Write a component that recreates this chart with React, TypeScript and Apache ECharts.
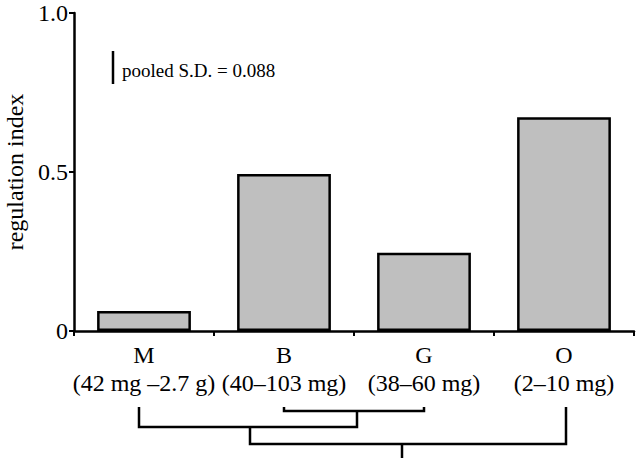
import React, { useEffect, useRef } from "react";
import * as echarts from "echarts";

const categories = ["M", "B", "G", "O"];
const massRanges = ["(42 mg –2.7 g)", "(40–103 mg)", "(38–60 mg)", "(2–10 mg)"];
const regulationIndex = [0.063, 0.494, 0.246, 0.672];
const yTicks = [0, 0.5, 1.0];
const pooledSD = 0.088;

const FONT = "Liberation Serif, Times New Roman, serif";

export default function App() {
  const ref = useRef<HTMLDivElement>(null);
  useEffect(() => {
    if (!ref.current) return;
    const chart = echarts.init(ref.current, undefined, { renderer: "svg" });
    const option: any = {
      animation: false,
      grid: { left: 74, right: 2, top: 13, bottom: 127, containLabel: false, outerBoundsMode: "none" },
      xAxis: {
        type: "category",
        data: categories,
        axisLine: { lineStyle: { color: "#000", width: 2.5 } },
        axisTick: { show: true, length: 5, lineStyle: { color: "#000", width: 2 } },
        axisLabel: {
          interval: 0,
          margin: 10,
          color: "#000",
          fontFamily: FONT,
          fontSize: 24,
          lineHeight: 28,
          formatter: (v: string) => {
            const i = categories.indexOf(v);
            return v + "\n" + massRanges[i];
          },
        },
      },
      yAxis: {
        type: "value",
        min: 0,
        max: 1,
        interval: 0.5,
        name: "regulation index",
        nameLocation: "middle",
        nameGap: 46,
        nameTextStyle: { color: "#000", fontFamily: FONT, fontSize: 24 },
        splitLine: { show: false },
        axisLine: { show: true, lineStyle: { color: "#000", width: 2.5 } },
        axisTick: { show: true, length: 5, lineStyle: { color: "#000", width: 2 } },
        axisLabel: {
          margin: 6,
          color: "#000",
          fontFamily: FONT,
          fontSize: 24,
          formatter: (v: number) => {
            const t = yTicks.find((x) => Math.abs(x - v) < 1e-9);
            if (t === undefined) return "";
            return t === 0 ? "0" : t.toFixed(1);
          },
        },
      },
      series: [
        {
          type: "bar",
          data: regulationIndex,
          barWidth: "67%",
          itemStyle: { color: "#bfbfbf", borderColor: "#000", borderWidth: 2.5 },
        },
      ],
    };
    chart.setOption(option);

    const cx = categories.map((c) => chart.convertToPixel({ xAxisIndex: 0 }, c) as number);

    const lw = 2.5;
    const ln = (x1: number, y1: number, x2: number, y2: number) => ({
      type: "line",
      shape: { x1, y1, x2, y2 },
      style: { stroke: "#000", lineWidth: lw },
    });
    const mX = cx[0] - 5;
    const bX = cx[1];
    const gX = cx[2];
    const oX = cx[3] + 2;
    const bgMid = (bX + gX) / 2 + 3;
    const mbMid = (mX + bgMid) / 2 + 2;
    const lowMid = (mbMid + oX) / 2 - 6;
    const yTop = 407;
    const yBG = 411;
    const yMB = 427;
    const yLow = 444;

    chart.setOption({
      graphic: [
        ln(113, 51, 113, 84),
        {
          type: "text",
          x: 122,
          y: 70,
          style: {
            text: "pooled S.D. = " + pooledSD.toFixed(3),
            fontFamily: FONT,
            fontSize: 19,
            fill: "#000",
            verticalAlign: "middle",
          },
        },
        {
          type: "polyline",
          shape: { points: [[bX, yTop], [bX, yBG], [gX, yBG], [gX, yTop]] },
          style: { stroke: "#000", lineWidth: lw, fill: "none" },
        },
        {
          type: "polyline",
          shape: { points: [[mX, yTop], [mX, yMB], [bgMid, yMB], [bgMid, yBG]] },
          style: { stroke: "#000", lineWidth: lw, fill: "none" },
        },
        {
          type: "polyline",
          shape: { points: [[mbMid, yMB], [mbMid, yLow], [oX, yLow], [oX, yTop]] },
          style: { stroke: "#000", lineWidth: lw, fill: "none" },
        },
        ln(lowMid, yLow, lowMid, 460),
      ],
    });

    return () => chart.dispose();
  }, []);
  return <div ref={ref} style={{ width: 636, height: 458, position: "absolute", left: 0, top: 0 }} />;
}
